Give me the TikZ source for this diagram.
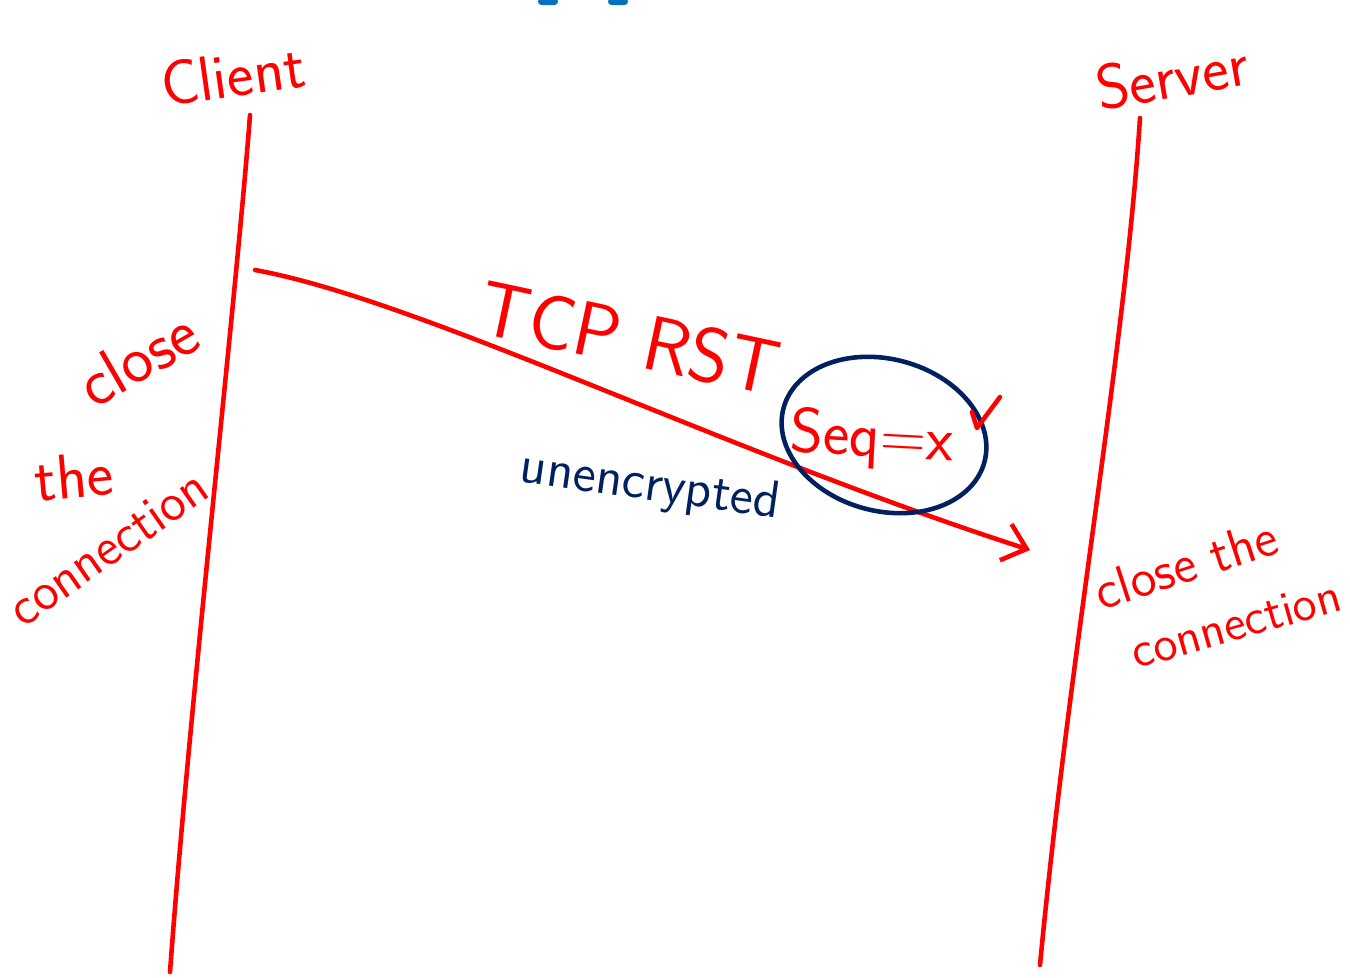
\documentclass[tikz,border=0pt]{standalone}
\usepackage{xcolor}
\usepackage{tikz}
\usetikzlibrary{positioning,arrows.meta}
\definecolor{penred}{RGB}{255,0,0}
\definecolor{pennavy}{RGB}{0,32,96}
\definecolor{penblue}{RGB}{0,112,192}

\begin{document}
\begin{tikzpicture}[x=0.01cm,y=-0.01cm,
  ink/.style={penred,line width=1.3pt,line cap=round,line join=round},
  note/.style={penred,inner sep=0pt,font=\sffamily\fontsize{#1}{#1}\selectfont},
  note/.default=17]
\useasboundingbox (0,0) rectangle (1350,978);
\fill[penblue,rounded corners=1pt] (538,-2) rectangle (558,5);
\fill[penblue,rounded corners=1pt] (608,-2) rectangle (628,5);
% lifelines
\coordinate (cTop) at (250,115);
\coordinate (cBot) at (170,972);
\coordinate (sTop) at (1140,118);
\coordinate (sBot) at (1040,965);
\draw[ink] (cTop) .. controls (236,300) and (190,700) .. (cBot);
\draw[ink] (sTop) .. controls (1125,350) and (1070,650) .. (sBot);
\node[note=18,rotate=8] (client) at (233,75) {Client};
\node[note=18,rotate=10] (server) at (1172,76) {Server};
% reset segment
\coordinate (rstStart) at (255,270);
\coordinate (rstEnd) at (1030,550);
\draw[ink,-{Straight Barb[length=2.2mm,width=3.8mm]}] (rstStart) .. controls (420,300) and (720,450) .. (rstEnd);
\node[note=22,rotate=-12] (rst) at (630,338) {TCP RST};
\node[note=18,rotate=-3] (seq) at (872,440) {Seq=x};
\draw[pennavy,line width=1.3pt,rotate around={-15:(884,435)}] (884,435) ellipse (104 and 76);
\draw[ink] (972,412) -- (977,428) -- (1000,397);
\node[note=15,pennavy,rotate=-8] (plain) at (650,487) {unencrypted};
% side notes
\node[note=19,rotate=30] (cClose) at (138,358) {close};
\node[note=18,rotate=5] (cThe) at (74,476) {the};
\node[note=15,rotate=35] (cConn) at (108,548) {connection};
\node[note=15,rotate=18] (sClose) at (1186,564) {close the};
\node[note=14,rotate=16] (sConn) at (1236,624) {connection};
\end{tikzpicture}
\end{document}
